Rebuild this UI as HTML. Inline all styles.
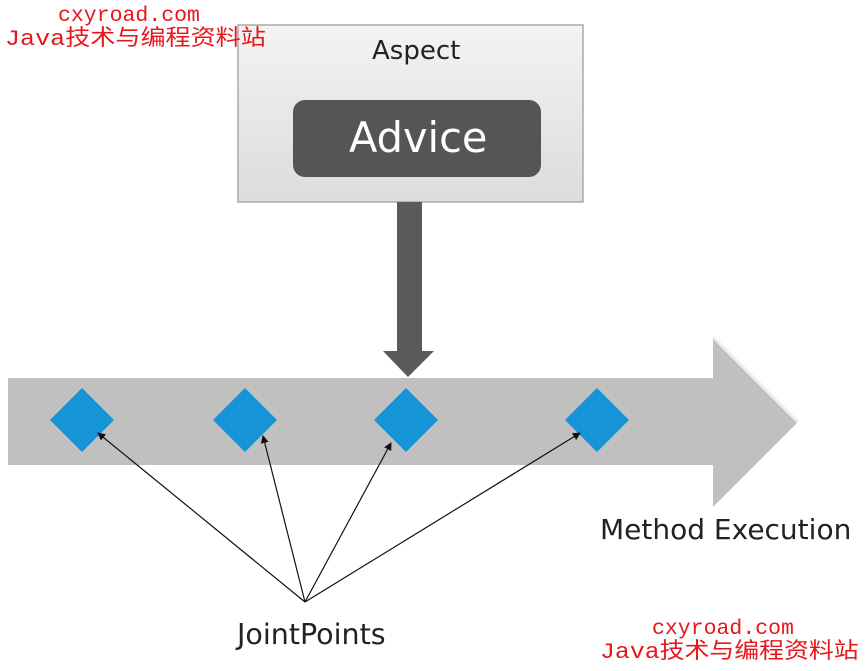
<!DOCTYPE html>
<html><head><meta charset="utf-8"><style>
body{margin:0;width:865px;height:671px;background:#fff;overflow:hidden;position:relative}
.t{position:absolute;white-space:nowrap}
.wm{color:#e8161b;font-family:"Liberation Mono","Noto Sans CJK SC",monospace;line-height:1}
.s{font-family:"DejaVu Sans","Liberation Sans",sans-serif;color:#222}
</style></head><body>
<svg width="865" height="671" style="position:absolute;left:0;top:0">
<defs>
<linearGradient id="g" x1="0" y1="0" x2="0" y2="1"><stop offset="0" stop-color="#f3f3f3"/><stop offset="1" stop-color="#dcdcdc"/></linearGradient>
<marker id="m" markerWidth="8" markerHeight="8" refX="7" refY="4" orient="auto" markerUnits="userSpaceOnUse"><path d="M0,0 L8,4 L0,8z" fill="#111"/></marker>
</defs>
<rect x="238" y="25" width="345" height="177" fill="url(#g)" stroke="#aaa" stroke-width="1.5"/>
<rect x="293" y="100" width="248" height="77" rx="12" fill="#555"/>
<rect x="397" y="202" width="25" height="150" fill="#5a5a5a"/>
<path d="M383,351 L434,351 L408,377z" fill="#5a5a5a"/>
<path d="M8,378 L713,378 L713,337 L798,422 L713,507 L713,465 L8,465z" fill="#c0c0c0"/>
<path d="M713,337 L798,422" stroke="#eee" stroke-width="3"/>
<g fill="#1595d8">
<path d="M82,388 L114,420 L82,452 L50,420z"/>
<path d="M245,388 L277,420 L245,452 L213,420z"/>
<path d="M406,388 L438,420 L406,452 L374,420z"/>
<path d="M597,388 L629,420 L597,452 L565,420z"/>
</g>
<g stroke="#111" stroke-width="1.2" marker-end="url(#m)">
<line x1="305" y1="602" x2="98" y2="433"/>
<line x1="305" y1="602" x2="263" y2="436"/>
<line x1="305" y1="602" x2="391" y2="443"/>
<line x1="305" y1="602" x2="580" y2="433"/>
</g>
</svg>
<div class="t s" style="left:372px;top:36px;font-size:26px">Aspect</div>
<div class="t s" style="left:349px;top:113px;font-size:41.5px;color:#fff">Advice</div>
<div class="t s" style="left:600px;top:513px;font-size:28px">Method Execution</div>
<div class="t s" style="left:237px;top:618px;font-size:28.5px">JointPoints</div>
<div class="t wm" style="left:58px;top:6px;font-size:21.5px">cxyroad.com</div>
<div class="t wm" style="left:5px;top:29px;font-size:22px;transform:scaleX(1.14);transform-origin:0 0">Java技术与编程资料站</div>
<div class="t wm" style="left:652px;top:619px;font-size:21.5px">cxyroad.com</div>
<div class="t wm" style="left:600px;top:642px;font-size:22px;transform:scaleX(1.13);transform-origin:0 0">Java技术与编程资料站</div>
</body></html>
